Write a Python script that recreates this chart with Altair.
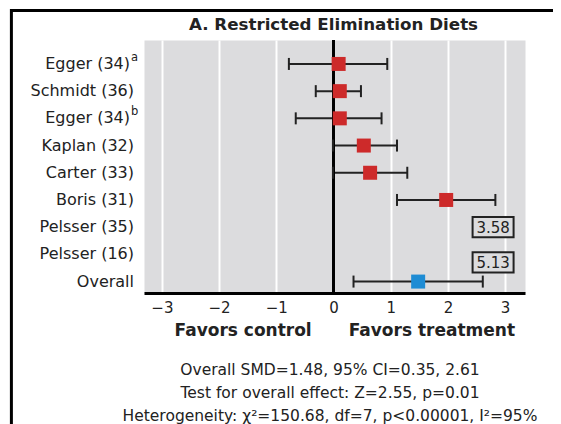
import altair as alt
import pandas as pd

# ---- data ----
studies = ["Egger (34)", "Schmidt (36)", "Egger (34)", "Kaplan (32)", "Carter (33)",
           "Boris (31)", "Pelsser (35)", "Pelsser (16)", "Overall"]
study_sup = ["a", "", "b", "", "", "", "", "", ""]
smd = [0.09, 0.11, 0.11, 0.53, 0.64, 1.97, 3.58, 5.13, 1.48]
ci_low = [-0.78, -0.31, -0.66, -0.01, -0.01, 1.11, None, None, 0.35]
ci_high = [0.94, 0.48, 0.84, 1.11, 1.29, 2.83, None, None, 2.61]
kind = ["study"] * 8 + ["overall"]
x_ticks = [-3, -2, -1, 0, 1, 2, 3]

title_text = "A. Restricted Elimination Diets"
left_label = "Favors control"
right_label = "Favors treatment"
footer_lines = [
    "Overall SMD=1.48, 95% CI=0.35, 2.61",
    "Test for overall effect: Z=2.55, p=0.01",
    "Heterogeneity: χ²=150.68, df=7, p<0.00001, I²=95%",
]

# ---- styling ----
FONT = "DejaVu Sans"
TXT = "#222222"
RED = "#cd2a2a"
BLUE = "#1e8cd4"
BG = "#dcdcde"
W, H = 381, 253
X_MAX = 3.348

df = pd.DataFrame({"study": studies, "sup": study_sup, "row": list(range(len(studies))), "smd": smd,
                   "lo": ci_low, "hi": ci_high, "kind": kind})
plotted = df[df["lo"].notna()]
plain_rows = df[df["sup"] == ""]
sup_rows = df[df["sup"] != ""]
offscale = df[df["smd"] > X_MAX].reset_index(drop=True)

x_scale = alt.Scale(domain=[-3.313, X_MAX], nice=False, zero=False)
y_scale = alt.Scale(domain=[8.42, -0.88], nice=False, zero=False)

x_axis = alt.Axis(values=x_ticks, format="d", title=None, ticks=False, labelPadding=7,
                  labelFont=FONT, labelFontSize=15, labelColor=TXT,
                  grid=True, gridColor="white", gridWidth=2,
                  domainColor="black", domainWidth=3)

bars = alt.Chart(plotted).mark_rule(color=TXT, strokeWidth=2).encode(
    x=alt.X("lo:Q", scale=x_scale, axis=x_axis),
    x2="hi:Q",
    y=alt.Y("row:Q", scale=y_scale, axis=None),
)

zero = alt.Chart(plotted).mark_rule(color="black", strokeWidth=2).encode(
    x=alt.X(datum=0, scale=x_scale)
)

caps_lo = alt.Chart(plotted).mark_tick(orient="vertical", size=12, thickness=2, color=TXT, opacity=1).encode(
    x=alt.X("lo:Q", scale=x_scale),
    y=alt.Y("row:Q", scale=y_scale),
)
caps_hi = alt.Chart(plotted).mark_tick(orient="vertical", size=12, thickness=2, color=TXT, opacity=1).encode(
    x=alt.X("hi:Q", scale=x_scale),
    y=alt.Y("row:Q", scale=y_scale),
)

squares = alt.Chart(plotted).mark_square(size=196, opacity=1, filled=True).encode(
    x=alt.X("smd:Q", scale=x_scale),
    y=alt.Y("row:Q", scale=y_scale),
    color=alt.Color("kind:N", scale=alt.Scale(domain=["study", "overall"], range=[RED, BLUE]), legend=None),
)

LABEL_FS = 16
row_labels = alt.Chart(plain_rows).mark_text(font=FONT, fontSize=LABEL_FS, color=TXT, align="right",
                                              baseline="middle").encode(
    x=alt.value(-10),
    y=alt.Y("row:Q", scale=y_scale),
    text="study:N",
)
row_labels_sup_base = alt.Chart(sup_rows).mark_text(font=FONT, fontSize=LABEL_FS, color=TXT, align="right",
                                                     baseline="middle").encode(
    x=alt.value(-14),
    y=alt.Y("row:Q", scale=y_scale),
    text="study:N",
)
row_labels_sup = alt.Chart(sup_rows).mark_text(font=FONT, fontSize=11.5, color=TXT, align="left",
                                                baseline="middle", dy=-6).encode(
    x=alt.value(-13),
    y=alt.Y("row:Q", scale=y_scale),
    text="sup:N",
)

BOX_PATH = "M-1,-0.49L1,-0.49L1,0.49L-1,0.49Z"
box_nudges = [0, 8]
box_layers = []
for i in range(len(offscale)):
    sub = offscale.iloc[[i]].assign(lbl=lambda d: d["smd"].map(lambda v: f"{v:.2f}"))
    box_layers.append(
        alt.Chart(sub).mark_point(shape=BOX_PATH, size=41 * 41, filled=True, fill=BG, stroke=TXT,
                                  strokeWidth=2, opacity=1, yOffset=box_nudges[i]).encode(
            x=alt.X(datum=2.79, scale=x_scale),
            y=alt.Y("row:Q", scale=y_scale),
        )
    )
    box_layers.append(
        alt.Chart(sub).mark_text(font=FONT, fontSize=15, color=TXT, yOffset=box_nudges[i] + 1).encode(
            x=alt.X(datum=2.79, scale=x_scale),
            y=alt.Y("row:Q", scale=y_scale),
            text="lbl:N",
        )
    )

one = pd.DataFrame({"k": [0]})

title = alt.Chart(one).mark_text(text=title_text, font=FONT, fontSize=16.7, fontWeight="bold",
                                  color=TXT, baseline="alphabetic").encode(
    x=alt.value(W / 2 - 1), y=alt.value(-10))

fav_l = alt.Chart(one).mark_text(text=left_label, font=FONT, fontSize=17, fontWeight="bold",
                                  color=TXT, baseline="alphabetic").encode(
    x=alt.X(datum=-1.58, scale=x_scale), y=alt.value(H + 43))
fav_r = alt.Chart(one).mark_text(text=right_label, font=FONT, fontSize=17, fontWeight="bold",
                                  color=TXT, baseline="alphabetic").encode(
    x=alt.X(datum=1.72, scale=x_scale), y=alt.value(H + 43))

footer = alt.Chart(one).mark_text(text=footer_lines, font=FONT, fontSize=15.5, color=TXT,
                                   baseline="alphabetic", lineHeight=23).encode(
    x=alt.value(186), y=alt.value(335))

frame_top = alt.Chart(one).mark_rule(color="black", strokeWidth=3).encode(
    x=alt.value(-134), x2=alt.value(430), y=alt.value(-29.4))
frame_left = alt.Chart(one).mark_rule(color="black", strokeWidth=3).encode(
    x=alt.value(-132.6), y=alt.value(-31), y2=alt.value(400))

chart = alt.layer(
    bars, zero, caps_lo, caps_hi, squares, row_labels, row_labels_sup_base, row_labels_sup,
    *box_layers, title, fav_l, fav_r, footer, frame_top, frame_left,
).properties(
    width=W, height=H,
    padding={"left": 136, "top": 32, "right": 28, "bottom": 131},
    autosize=alt.AutoSizeParams(type="none"),
    background="white",
).configure_view(fill=BG, stroke="transparent")

chart.save("out.html", embed_options={"renderer": "svg", "actions": False})
